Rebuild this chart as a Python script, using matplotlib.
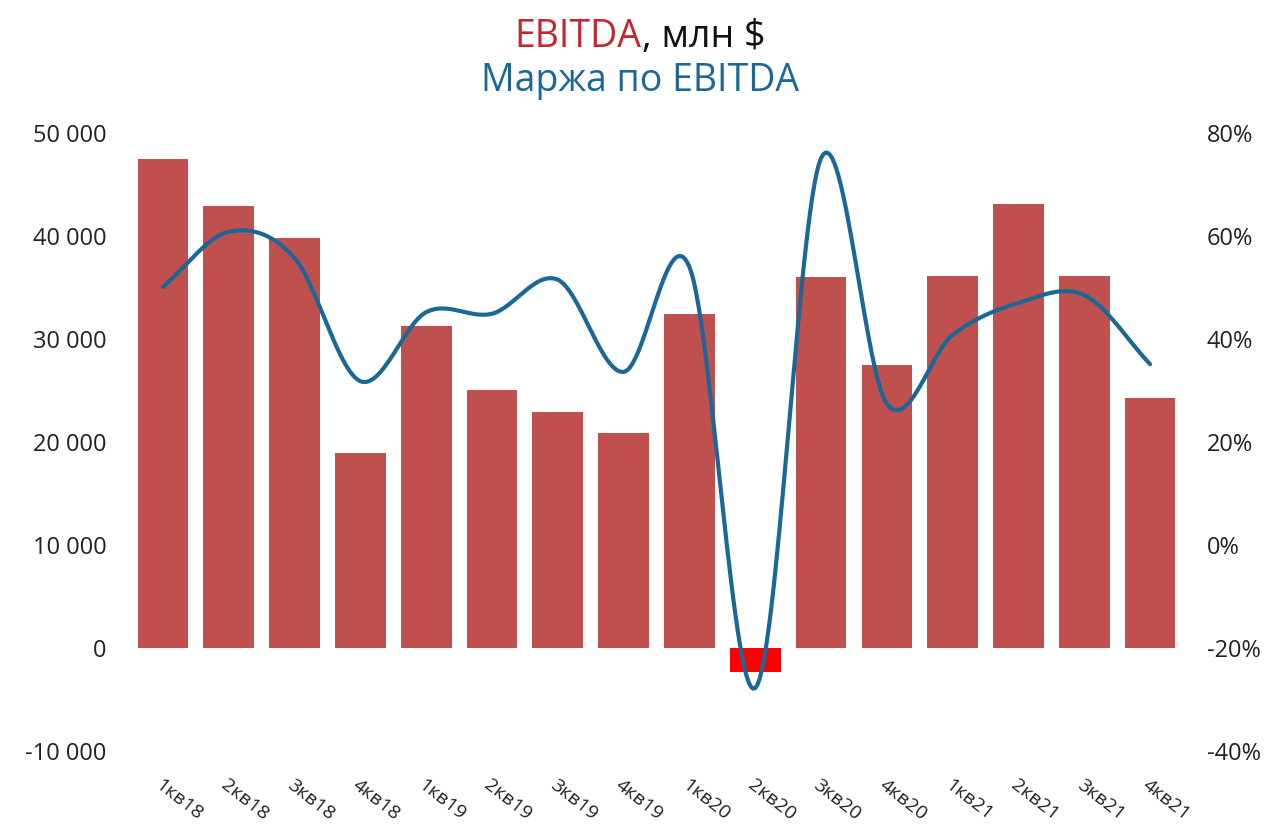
import numpy as np
import matplotlib
matplotlib.use('Agg')
import matplotlib.pyplot as plt

plt.rcParams['font.family'] = ['Open Sans', 'DejaVu Sans']

# data
quarters = ['1кв18', '2кв18', '3кв18', '4кв18', '1кв19', '2кв19', '3кв19', '4кв19',
            '1кв20', '2кв20', '3кв20', '4кв20', '1кв21', '2кв21', '3кв21', '4кв21']
ebitda = [47500, 42900, 39800, 18900, 31300, 25000, 22900, 20900,
          32400, -2300, 36000, 27500, 36100, 43100, 36100, 24300]
margin = [50.1, 60.8, 55.7, 31.8, 45.2, 44.9, 51.5, 33.6,
          54.0, -27.8, 75.1, 27.4, 40.8, 47.0, 48.5, 35.1]

left_ticks = [-10000, 0, 10000, 20000, 30000, 40000, 50000]
right_ticks = [-40, -20, 0, 20, 40, 60, 80]

BAR = '#C0504D'
NEG = '#FF0000'
LINE = '#1B6898'
TITLE_RED = '#C0282F'


def smooth(xs, ys, n=30):
    """Catmull-Rom curve through the points, like Excel's smoothed line."""
    xs = np.asarray(xs, float)
    ys = np.asarray(ys, float)
    px = np.concatenate([[2 * xs[0] - xs[1]], xs, [2 * xs[-1] - xs[-2]]])
    py = np.concatenate([[2 * ys[0] - ys[1]], ys, [2 * ys[-1] - ys[-2]]])
    outx, outy = [], []
    t = np.linspace(0, 1, n, endpoint=False)
    for i in range(1, len(px) - 2):
        for p, out in ((px, outx), (py, outy)):
            p0, p1, p2, p3 = p[i - 1], p[i], p[i + 1], p[i + 2]
            out.extend(0.5 * (2 * p1 + (-p0 + p2) * t
                              + (2 * p0 - 5 * p1 + 4 * p2 - p3) * t ** 2
                              + (-p0 + 3 * p1 - 3 * p2 + p3) * t ** 3))
    outx.append(xs[-1])
    outy.append(ys[-1])
    return np.array(outx), np.array(outy)


fig = plt.figure(figsize=(12.8, 8.31), dpi=100)
ax = fig.add_axes([0.1016, 0.0963, 0.8226, 0.7437])
ax2 = ax.twinx()

x = np.arange(len(quarters))
colors = [BAR if v >= 0 else NEG for v in ebitda]
ax.bar(x, ebitda, width=0.77, color=colors, zorder=2)

sx, sy = smooth(x, margin)
ax2.plot(sx, sy, color=LINE, lw=3, solid_capstyle='round', zorder=3)

ax.set_xlim(-0.5, len(quarters) - 0.5)
ax.set_ylim(-10000, 50000)
ax2.set_ylim(-40, 80)

ax.set_yticks(left_ticks)
ax.set_yticklabels([f'{v:,}'.replace(',', ' ') for v in left_ticks])
ax2.set_yticks(right_ticks)
ax2.set_yticklabels([f'{v}%' for v in right_ticks])

ax.set_xticks(x)
ax.set_xticklabels(quarters, rotation=-38, ha='left', va='top', rotation_mode='anchor')

for a in (ax, ax2):
    for s in a.spines.values():
        s.set_visible(False)
    a.tick_params(length=0, labelsize=17, colors='#222222')
ax.tick_params(axis='y', pad=17)
ax2.tick_params(axis='y', pad=17)
ax.tick_params(axis='x', pad=18, labelsize=14)

# two-colour first title line
fig.canvas.draw()
r = fig.canvas.get_renderer()
t1 = fig.text(0, 0, 'EBITDA', fontsize=27, color=TITLE_RED)
t2 = fig.text(0, 0, ', млн $', fontsize=27, color='#111111')
w1 = t1.get_window_extent(r).width
w2 = t2.get_window_extent(r).width
W = fig.bbox.width
start = (W - w1 - w2) / 2
y1 = 1 - 37 / 831
t1.set_position((start / W, y1))
t2.set_position(((start + w1) / W, y1))
t1.set_va('center')
t2.set_va('center')
fig.text(0.5, 1 - 81 / 831, 'Маржа по EBITDA', fontsize=27, color=LINE,
         ha='center', va='center')

fig.savefig('out.png', dpi=100, facecolor='white')
